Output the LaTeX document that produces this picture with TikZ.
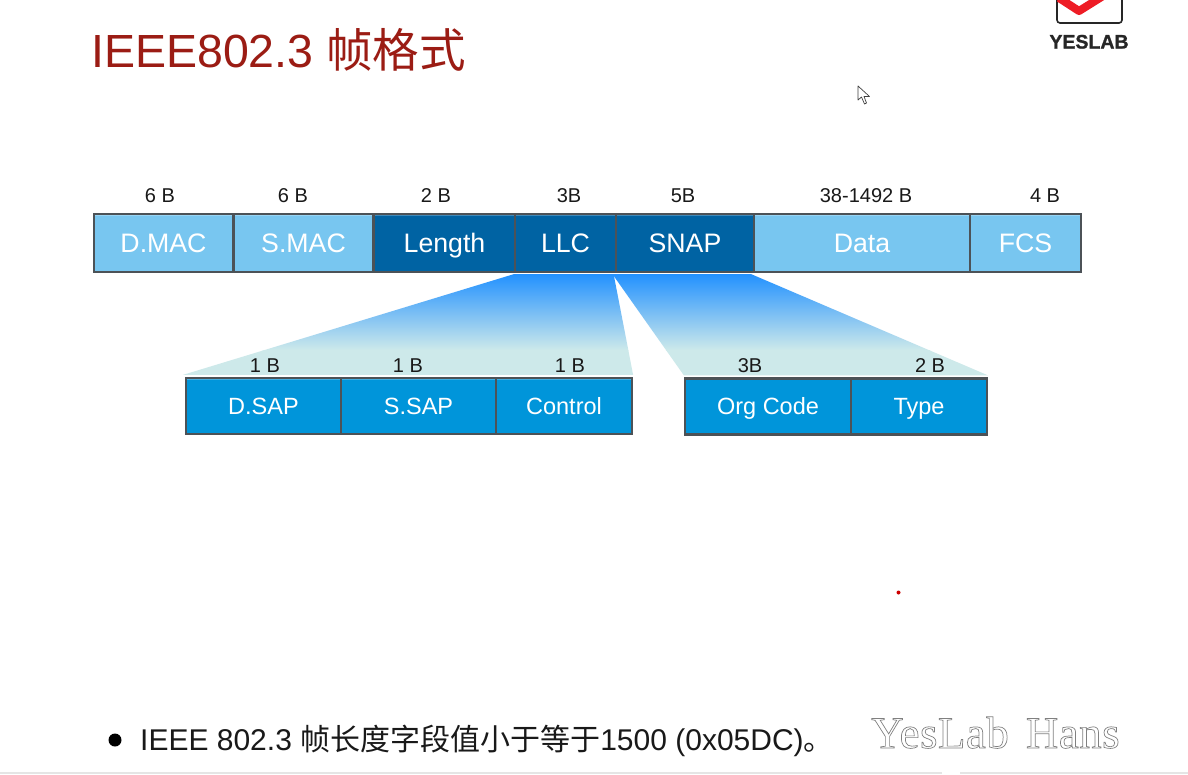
\documentclass[tikz,border=0pt]{standalone}
\usepackage{fontspec}
\setmainfont{Liberation Sans}
\newfontfamily\cjkfont{Noto Sans CJK SC}
\newfontfamily\wmfont[LetterSpace=1]{Liberation Serif}
\definecolor{lightcell}{HTML}{78C6F0}
\definecolor{darkcell}{HTML}{0063A3}
\definecolor{subcell}{HTML}{0095DA}
\definecolor{cellborder}{HTML}{4C5257}
\definecolor{fanTop}{HTML}{2090FF}
\definecolor{fanMid}{HTML}{62B0F2}
\definecolor{fanBottom}{HTML}{CDE9EA}
\definecolor{titlered}{HTML}{9B1C14}
\definecolor{logored}{HTML}{EE1C25}
\usetikzlibrary{calc}
\tikzset{
  cellbase/.style={draw=cellborder,line width=2.2pt,inner sep=0pt,text=white,anchor=center,
    path picture={\draw[white,opacity=.25,line width=3pt]
      (path picture bounding box.north west)--(path picture bounding box.north east);}},
  topcell/.style={cellbase,minimum height=58pt,font=\fontsize{26.7}{30}\selectfont,text height=18.6pt,text depth=0pt},
  lightbox/.style={topcell,fill=lightcell},
  darkbox/.style={topcell,fill=darkcell},
  subbox/.style={cellbase,fill=subcell,minimum height=56pt,font=\fontsize{23.5}{28}\selectfont,text height=16.8pt,text depth=0pt},
  sizelabel/.style={inner sep=0pt,anchor=center,text=black!90,font=\fontsize{20}{24}\selectfont,text height=14.3pt,text depth=0pt},
}
\begin{document}
\begin{tikzpicture}[x=1pt,y=-1pt]
\useasboundingbox (0,0) rectangle (1188,774);
\fill[white] (0,0) rectangle (1188,774);
% top row
\node[lightbox,minimum width=139pt] (dmac) at (163.5,243) {D.MAC};
\node[lightbox,minimum width=140pt] (smac) at (303.5,243) {S.MAC};
\node[darkbox,minimum width=141pt] (length) at (444.5,243) {Length};
\node[darkbox,minimum width=101pt] (llc) at (565.5,243) {LLC};
\node[darkbox,minimum width=138pt] (snap) at (685,243) {SNAP};
\node[lightbox,minimum width=216pt] (data) at (862,243) {Data};
\node[lightbox,minimum width=111pt] (fcs) at (1025.5,243) {FCS};
% sub rows
\node[subbox,minimum width=155pt] (dsap) at (263.5,406) {D.SAP};
\node[subbox,minimum width=155pt] (ssap) at (418.5,406) {S.SAP};
\node[subbox,minimum width=136pt] (control) at (564,406) {Control};
\node[subbox,minimum width=166pt] (org) at (768,406.5) {Org Code};
\node[subbox,minimum width=136pt] (type) at (919,406.5) {Type};
% fans
\begin{scope}
  \clip ($(llc.south west)+(0,1)$) -- ($(llc.south east)+(-3.5,1)$) -- ($(control.north east)+(0,-2)$) -- ($(dsap.north west)+(-2,-2)$) -- cycle;
  \shade[top color=fanTop,middle color=fanMid,bottom color=fanBottom] (180,273) rectangle (640,350);
  \fill[fanBottom] (180,350) rectangle (640,376);
\end{scope}
\begin{scope}
  \clip ($(snap.south west)+(-2.5,1)$) -- ($(snap.south east)+(-4,1)$) -- ($(type.north east)+(0,-2)$) -- ($(org.north west)+(0,-2)$) -- cycle;
  \shade[top color=fanTop,middle color=fanMid,bottom color=fanBottom] (600,273) rectangle (1000,350);
  \fill[fanBottom] (600,350) rectangle (1000,376);
\end{scope}
% size labels
\node[sizelabel] (s1) at (160,195) {6 B};
\node[sizelabel] (s2) at (293,195) {6 B};
\node[sizelabel] (s3) at (436,195) {2 B};
\node[sizelabel] (s4) at (569,195) {3B};
\node[sizelabel] (s5) at (683,195) {5B};
\node[sizelabel] (s6) at (866,195) {38-1492 B};
\node[sizelabel] (s7) at (1045,195) {4 B};
\node[sizelabel] (l1) at (265,365) {1 B};
\node[sizelabel] (l2) at (408,365) {1 B};
\node[sizelabel] (l3) at (570,365) {1 B};
\node[sizelabel] (l4) at (750,365) {3B};
\node[sizelabel] (l5) at (930,365) {2 B};
% title
\node[anchor=base west,inner sep=0pt,text=titlered,font=\fontsize{46.5}{50}\selectfont] (title) at (91,67) {IEEE802.3 {\cjkfont 帧格式}};
% logo
\draw[black!85,line width=1.6pt,rounded corners=3pt] (1057,-12) rectangle (1122,23);
\draw[logored,line width=8pt,line join=round] (1059,-2) -- (1079,11) -- (1103,-4);
\node[anchor=base,inner sep=0pt,text=black!85,font=\bfseries\fontsize{19.5}{24}\selectfont\addfontfeature{FakeBold=1.2}] (logo) at (1089,48.5) {YESLAB};
% cursor
\draw[black!75,fill=white,line width=.7pt,line join=round] (858,86) -- (858,100) -- (861.5,97) -- (864.5,104) -- (866.5,103) -- (864,96.5) -- (869.5,96.5) -- cycle;
% stray dot
\fill[red!80!black] (898.5,592.5) circle (2pt);
% bullet + footer
\node[circle,fill=black,inner sep=0pt,minimum size=13pt] (bullet) at (115,740) {};
\node[anchor=base west,inner sep=0pt,text=black!90,font=\fontsize{30}{34}\selectfont] (foot) at (140,750) {IEEE 802.3 {\cjkfont 帧长度字段值小于等于}1500 (0x05DC){\cjkfont 。}};
% watermark
\node[anchor=base west,inner sep=0pt,text=black!50,font=\wmfont\fontsize{45}{50}\selectfont] (wm) at (871,748)
  {\special{pdf:code q 1 Tr 0.7 w}YesLab\hspace{17pt}Hans\special{pdf:code Q}};
% bottom strip
\fill[black!10] (0,771.5) rectangle (942,774);
\fill[black!10] (960,771.5) rectangle (1188,774);
\end{tikzpicture}
\end{document}
